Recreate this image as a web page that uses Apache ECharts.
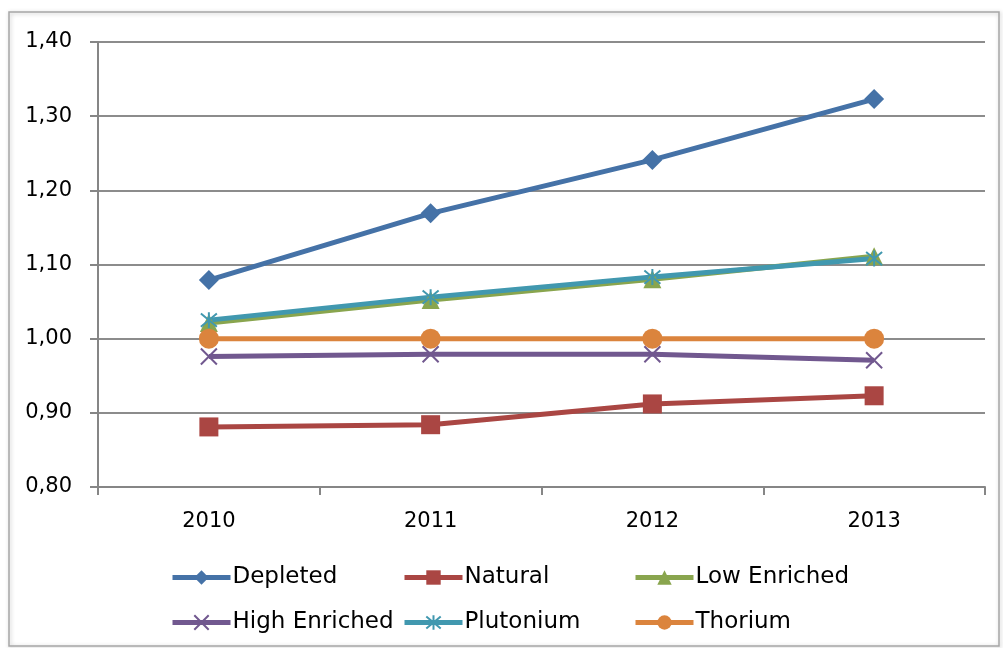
<!DOCTYPE html>
<html><head><meta charset="utf-8">
<script src="https://cdn.jsdelivr.net/npm/echarts@6/dist/echarts.min.js"></script>
<style>html,body{margin:0;padding:0;background:#fff}#c{width:1003px;height:648px}</style>
</head><body><div id="c"></div>
<script>
const categories = ['2010', '2011', '2012', '2013'];
const depleted = [1.079, 1.169, 1.241, 1.323];
const natural = [0.881, 0.884, 0.912, 0.923];
const lowEnriched = [1.021, 1.052, 1.080, 1.111];
const highEnriched = [0.976, 0.979, 0.979, 0.971];
const plutonium = [1.025, 1.056, 1.083, 1.108];
const thorium = [1.000, 1.000, 1.000, 1.000];
const seriesNames = ['Depleted', 'Natural', 'Low Enriched', 'High Enriched', 'Plutonium', 'Thorium'];
const yTicks = { min: 0.8, max: 1.4, interval: 0.1 };

const font = 'Verdana, "DejaVu Sans", sans-serif';
const xPath = 'path://M0,0L10,10M10,0L0,10';
const starPath = 'path://M0,0L10,10M10,0L0,10M5,-1L5,11';
function mk(name, data, color, symbol, size, stroke) {
  return {
    name, type: 'line', data, symbol, symbolSize: size,
    lineStyle: { color, width: 5 },
    itemStyle: stroke ? { color: 'rgba(0,0,0,0)', borderColor: color, borderWidth: 2 } : { color },
    emphasis: { disabled: true }, z: 3
  };
}
const chart = echarts.init(document.getElementById('c'), null, { renderer: 'canvas' });
const legendCols = [165, 397, 628];
const legendRows = [561, 606];
const legends = seriesNames.map((n, i) => ({
  data: [n], left: legendCols[i % 3], top: legendRows[Math.floor(i / 3)],
  itemWidth: 58, itemHeight: 18, itemGap: 0,
  lineStyle: { width: 5 },
  textStyle: { fontFamily: font, fontSize: 23, color: '#000', padding: [0, 0, 0, -3] },
  selectedMode: false
}));
chart.setOption({
  animation: false,
  graphic: [{
    type: 'rect', shape: { x: 9, y: 12, width: 990, height: 634 },
    style: { fill: 'none', stroke: '#a6a6a6', lineWidth: 1.5, shadowColor: 'rgba(0,0,0,0.25)', shadowBlur: 4, shadowOffsetX: 1, shadowOffsetY: 1 },
    z: -1
  }],
  grid: { left: 98, right: 18, top: 42, bottom: 161 },
  legend: legends,
  xAxis: {
    type: 'category', data: categories, boundaryGap: true,
    axisLine: { lineStyle: { color: '#868686', width: 2 } },
    axisTick: { show: true, length: 8, lineStyle: { color: '#868686', width: 2 } },
    axisLabel: { fontFamily: font, fontSize: 21, color: '#000', margin: 24 }
  },
  yAxis: {
    type: 'value', min: yTicks.min, max: yTicks.max, interval: yTicks.interval,
    axisLine: { show: true, lineStyle: { color: '#868686', width: 2 } },
    axisTick: { show: true, length: 8, lineStyle: { color: '#868686', width: 2 } },
    splitLine: { lineStyle: { color: '#8c8c8c', width: 2 } },
    axisLabel: { fontFamily: font, fontSize: 21, color: '#000', margin: 26,
      formatter: v => v.toFixed(2).replace('.', ',') }
  },
  series: [
    mk(seriesNames[0], depleted, '#4572A7', 'diamond', 20, false),
    mk(seriesNames[1], natural, '#AA4643', 'rect', 19, false),
    mk(seriesNames[2], lowEnriched, '#89A54E', 'triangle', 18, false),
    mk(seriesNames[3], highEnriched, '#71588F', xPath, 16, true),
    mk(seriesNames[4], plutonium, '#4198AF', starPath, 16, true),
    mk(seriesNames[5], thorium, '#DB843D', 'circle', 20, false)
  ]
});
</script></body></html>
